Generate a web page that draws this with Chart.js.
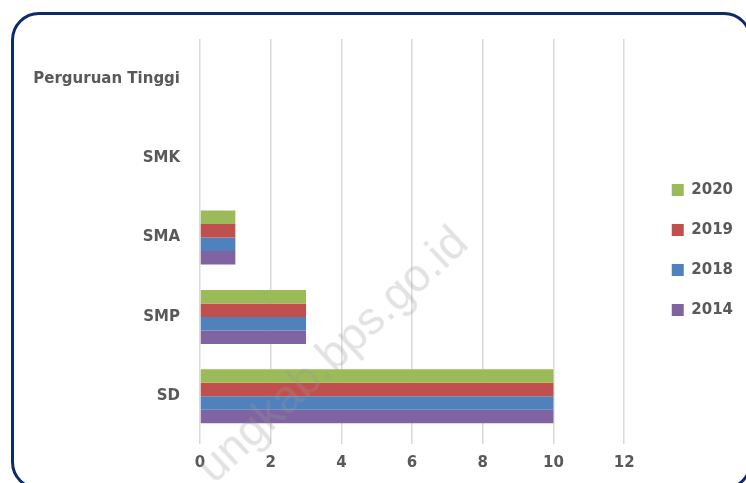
<!DOCTYPE html>
<html>
<head>
<meta charset="utf-8">
<script src="https://cdn.jsdelivr.net/npm/chart.js@4.4.1/dist/chart.umd.min.js"></script>
<style>
    html, body { margin: 0; padding: 0; background: #fff; overflow: hidden; }
    #wrap { position: relative; width: 746px; height: 483px; overflow: hidden; }
    .frame {
        position: absolute; left: 11px; top: 12px; width: 741px; height: 478px;
        box-sizing: border-box; border: 3.5px solid #0d2b6b; border-radius: 28px;
    }
    #grafik { position: absolute; left: 0; top: 0; }
    .watermark {
        position: absolute; left: 219px; top: 444px; white-space: nowrap;
        font-family: 'Liberation Sans', sans-serif; font-size: 46px; line-height: 46px;
        color: rgba(150, 150, 150, 0.28); transform-origin: 0 100%; transform: rotate(-43deg);
        pointer-events: none;
    }
</style>
</head>
<body>
<div id="wrap">
    <div class="frame"></div>
    <canvas id="grafik" width="746" height="483"></canvas>
    <div class="watermark">ungkab.bps.go.id</div>
</div>
<script>
const kategori = ['Perguruan Tinggi', 'SMK', 'SMA', 'SMP', 'SD'];
const tahun = ['2020', '2019', '2018', '2014'];
const nilai2020 = [0, 0, 1, 3, 10];
const nilai2019 = [0, 0, 1, 3, 10];
const nilai2018 = [0, 0, 1, 3, 10];
const nilai2014 = [0, 0, 1, 3, 10];
const tickX = [0, 2, 4, 6, 8, 10, 12];

const warna = ['#9bbb59', '#c0504d', '#4f81bd', '#8064a2'];
const semuaNilai = [nilai2020, nilai2019, nilai2018, nilai2014];

Chart.defaults.font.family = "'DejaVu Sans', sans-serif";
Chart.defaults.font.weight = 'bold';
Chart.defaults.font.size = 15;
Chart.defaults.color = '#595959';

new Chart(document.getElementById('grafik'), {
    type: 'bar',
    data: {
        labels: kategori,
        datasets: tahun.map((t, i) => ({
            label: t,
            data: semuaNilai[i],
            backgroundColor: warna[i],
            borderWidth: 0,
            barPercentage: 1,
            categoryPercentage: 0.68,
        }))
    },
    options: {
        indexAxis: 'y',
        responsive: false,
        animation: false,
        devicePixelRatio: 1,
        layout: { padding: { top: 18, right: 3, bottom: 1, left: 0 } },
        plugins: {
            // spacer only, keeps legend centred like the original
            title: { display: true, text: ' ', fullSize: false, padding: 0, font: { size: 21, lineHeight: 1 } },
            tooltip: { enabled: false },
            legend: {
                position: 'right',
                labels: {
                    boxWidth: 12,
                    boxHeight: 12,
                    padding: 25,
                    color: '#595959',
                    font: { size: 15, weight: 'bold' }
                }
            }
        },
        scales: {
            x: {
                min: 0,
                max: 12.64,
                afterBuildTicks: s => { s.ticks = tickX.map(v => ({ value: v })); },
                grid: { color: '#d9d9d9', lineWidth: 1.5, tickLength: 8, drawTicks: true },
                border: { display: false },
                ticks: { padding: 10, color: '#595959' }
            },
            y: {
                afterFit: s => { s.width = 200; },
                grid: { display: false, drawTicks: false },
                border: { display: false },
                ticks: { padding: 20, color: '#595959' }
            }
        }
    }
});
</script>
</body>
</html>
